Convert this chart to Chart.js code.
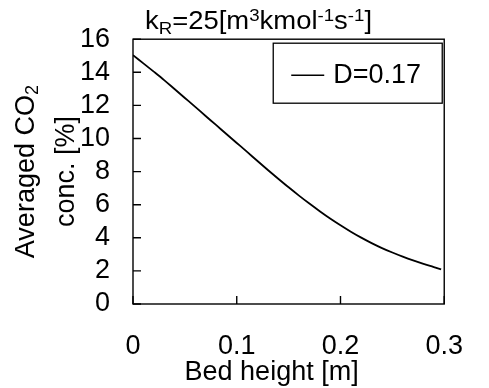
<!DOCTYPE html>
<html>
<head>
<meta charset="utf-8">
<script src="https://cdn.jsdelivr.net/npm/chart.js@4.4.1/dist/chart.umd.min.js"></script>
<style>
  html, body { margin: 0; padding: 0; background: #fff; }
</style>
</head>
<body>
<canvas id="co2Chart" width="489" height="388"></canvas>
<script>
const bedHeight = [0, 0.01, 0.02, 0.03, 0.04, 0.05, 0.06, 0.07, 0.08, 0.09, 0.10,
  0.11, 0.12, 0.13, 0.14, 0.15, 0.16, 0.17, 0.18, 0.19, 0.20,
  0.21, 0.22, 0.23, 0.24, 0.25, 0.26, 0.27, 0.28, 0.29, 0.297]
const co2Conc = [15.04, 14.54, 14.04, 13.53, 12.99, 12.45, 11.91, 11.36, 10.82, 10.27, 9.73,
  9.19, 8.64, 8.10, 7.57, 7.05, 6.55, 6.07, 5.61, 5.17, 4.76,
  4.37, 4.01, 3.68, 3.38, 3.11, 2.86, 2.63, 2.42, 2.23, 2.09]
const seriesLabel = "D=0.17"
const xTicks = [0, 0.1, 0.2, 0.3]
const yTicks = [0, 2, 4, 6, 8, 10, 12, 14, 16]
const xTitle = "Bed height [m]"
const yTitle1 = ["Averaged CO", "2"]   // main text + subscript
const yTitle2 = "conc. [%]"
// title pieces: [text, mode]  n = normal, sub, sup
const topTitle = [["k", "n"], ["R", "sub"], ["=25[m", "n"], ["3", "sup"], ["kmol", "n"],
  ["-1", "sup"], ["s", "n"], ["-1", "sup"], ["]", "n"]]

const FONT = "'Liberation Sans', Arial, sans-serif"

function drawPieces(ctx, pieces, x, y, big, small, widthTarget) {
    // measure first
    let w = 0
    pieces.forEach(p => {
        ctx.font = (p[1] === "n" ? big : small) + "px " + FONT
        w += ctx.measureText(p[0]).width
    })
    let sx = widthTarget ? widthTarget / w : 1
    ctx.save()
    ctx.translate(x, y)
    ctx.scale(sx, 1)
    let cx = 0
    pieces.forEach(p => {
        ctx.font = (p[1] === "n" ? big : small) + "px " + FONT
        let dy = 0
        if (p[1] === "sub") dy = 5
        if (p[1] === "sup") dy = -8
        ctx.fillText(p[0], cx, dy)
        cx += ctx.measureText(p[0]).width
    })
    ctx.restore()
}

const framePlugin = {
    id: "frame",
    afterDatasetsDraw(chart) {
        const ctx = chart.ctx
        const a = chart.chartArea
        const xs = chart.scales.x
        const ys = chart.scales.y
        ctx.save()
        ctx.strokeStyle = "#000"
        ctx.fillStyle = "#000"
        ctx.lineWidth = 1.4
        ctx.strokeRect(a.left, a.top, a.right - a.left, a.bottom - a.top)
        // inward ticks
        ctx.beginPath()
        ys.ticks.forEach(t => {
            let py = ys.getPixelForValue(t.value)
            ctx.moveTo(a.left, py)
            ctx.lineTo(a.left + 8, py)
        })
        xs.ticks.forEach(t => {
            let px = xs.getPixelForValue(t.value)
            ctx.moveTo(px, a.bottom)
            ctx.lineTo(px, a.bottom - 8)
        })
        ctx.stroke()

        // legend
        let bx = a.right - 171, by = a.top + 4
        ctx.lineWidth = 1.3
        ctx.strokeRect(bx, by, 169, 60)
        ctx.lineWidth = 1.5
        ctx.beginPath()
        ctx.moveTo(bx + 18, by + 32)
        ctx.lineTo(bx + 51, by + 32)
        ctx.stroke()
        ctx.font = "27px " + FONT
        ctx.textBaseline = "alphabetic"
        ctx.textAlign = "left"
        ctx.fillText(chart.data.datasets[0].label, bx + 60, by + 40)

        // x title
        ctx.textAlign = "center"
        ctx.fillText(xTitle, (a.left + a.right) / 2 - 17, 380)

        // y title, rotated
        let cy = (a.top + a.bottom) / 2
        ctx.save()
        ctx.translate(34, cy)
        ctx.rotate(-Math.PI / 2)
        ctx.font = "27px " + FONT
        let w1 = ctx.measureText(yTitle1[0]).width
        ctx.font = "18px " + FONT
        let w2 = ctx.measureText(yTitle1[1]).width
        ctx.textAlign = "left"
        ctx.font = "27px " + FONT
        ctx.fillText(yTitle1[0], -(w1 + w2) / 2, 0)
        ctx.font = "18px " + FONT
        ctx.fillText(yTitle1[1], -(w1 + w2) / 2 + w1, 4)
        ctx.restore()
        ctx.save()
        ctx.translate(74, cy)
        ctx.rotate(-Math.PI / 2)
        ctx.font = "27px " + FONT
        ctx.textAlign = "center"
        ctx.fillText(yTitle2, 0, 0)
        ctx.restore()

        // top title
        ctx.textAlign = "left"
        drawPieces(ctx, topTitle, 145, 29, 25, 17, 227)
        ctx.restore()
    }
}

const ctx = document.getElementById("co2Chart").getContext("2d")
const myChart = new Chart(ctx, {
    type: "line",
    data: {
        datasets: [{
            label: seriesLabel,
            data: bedHeight.map((h, i) => ({ x: h, y: co2Conc[i] })),
            borderColor: "#000",
            backgroundColor: "#000",
            borderWidth: 1.8,
            pointRadius: 0,
            cubicInterpolationMode: "monotone",
        }]
    },
    options: {
        responsive: false,
        animation: false,
        layout: { padding: { top: 39, right: 26, left: 0, bottom: 0 } },
        plugins: {
            legend: { display: false },
            title: { display: false },
            tooltip: { enabled: false },
        },
        scales: {
            x: {
                type: "linear",
                min: 0,
                max: 0.3,
                grid: { display: false, drawTicks: false },
                border: { display: false },
                afterBuildTicks: (s) => { s.ticks = xTicks.map(v => ({ value: v })) },
                afterFit: (s) => { s.height = 84 },
                ticks: {
                    color: "#000",
                    padding: 26,
                    autoSkip: false,
                    maxRotation: 0,
                    font: { family: FONT, size: 27 },
                    callback: (v) => String(v),
                },
            },
            y: {
                min: 0,
                max: 16,
                grid: { display: false, drawTicks: false },
                border: { display: false },
                afterBuildTicks: (s) => { s.ticks = yTicks.map(v => ({ value: v })) },
                afterFit: (s) => { s.width = 133 },
                ticks: {
                    color: "#000",
                    padding: 23,
                    autoSkip: false,
                    font: { family: FONT, size: 27 },
                },
            },
        },
    },
    plugins: [framePlugin],
})
</script>
</body>
</html>
